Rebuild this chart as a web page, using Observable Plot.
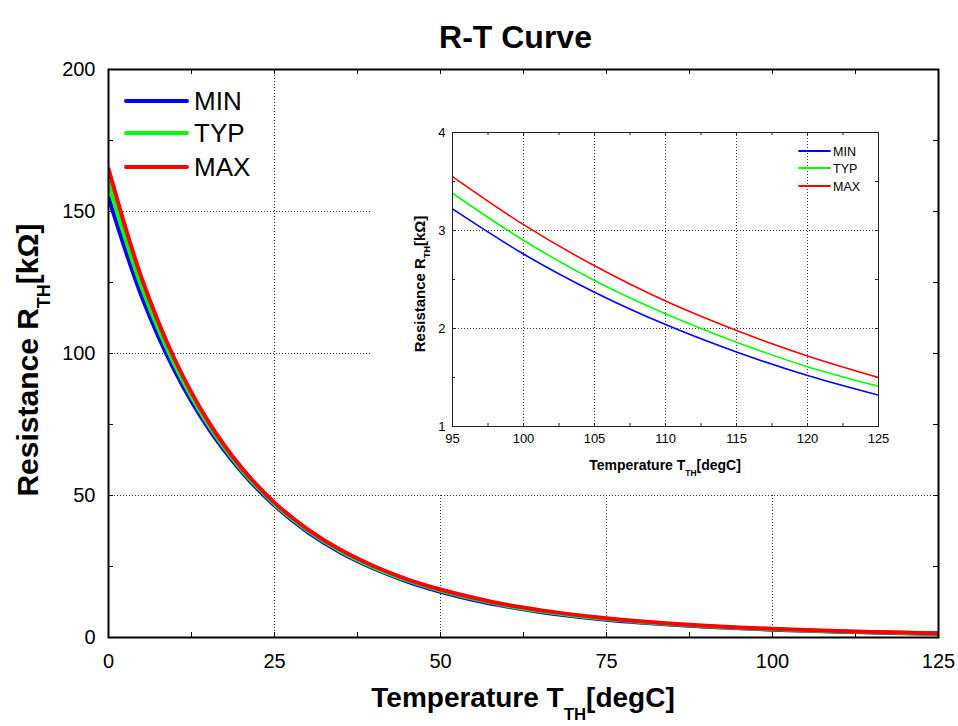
<!DOCTYPE html>
<html><head><meta charset="utf-8">
<script src="https://cdn.jsdelivr.net/npm/d3@7"></script>
<script src="https://cdn.jsdelivr.net/npm/@observablehq/plot@0.6"></script>
<style>
body{margin:0;background:#fff;}
#wrap{position:relative;width:958px;height:726px;font-family:Arial,"Liberation Sans",sans-serif;}
#inset{position:absolute;left:370px;top:74px;}
svg text{font-family:Arial,"Liberation Sans",sans-serif;}
</style></head><body>
<div id="wrap"><div id="main"></div><div id="inset"></div></div>
<script>
// ---- data ----
const temps = [0,5,10,15,20,25,30,35,40,45,50,55,60,65,70,75,80,85,90,95,100,105,110,115,120,125];
const rMin = [155.0,120.1,93.8,73.8,58.5,46.5,37.1,29.8,24.2,19.7,16.1,13.2,10.9,9.01,7.48,6.25,5.26,4.45,3.78,3.22,2.76,2.37,2.04,1.76,1.52,1.32];
const rTyp = [160.0,123.3,95.8,75.0,59.2,47.0,37.6,30.3,24.6,20.1,16.5,13.6,11.2,9.32,7.76,6.50,5.49,4.65,3.96,3.38,2.90,2.49,2.15,1.86,1.61,1.41];
const rMax = [165.0,126.5,97.8,76.2,59.9,47.5,38.1,30.8,25.1,20.5,16.9,14.0,11.5,9.64,8.05,6.76,5.72,4.86,4.15,3.55,3.06,2.64,2.28,1.98,1.72,1.50];
const seriesNames = ["MIN","TYP","MAX"];
const seriesColors = ["#0000ff","#00ff00","#ff0000"];
const mainXTicks = [0,25,50,75,100,125];
const mainYTicks = [0,50,100,150,200];
const mainXMinor = [0,12.5,25,37.5,50,62.5,75,87.5,100,112.5,125];
const mainYMinor = [0,25,50,75,100,125,150,175,200];
const insetXTicks = [95,100,105,110,115,120,125];
const insetYTicks = [1,2,3,4];
const insetXMinor = [95,97.5,100,102.5,105,107.5,110,112.5,115,117.5,120,122.5,125];
const insetYMinor = [1,1.5,2,2.5,3,3.5,4];
const titleText = "R-T Curve";
const xTitle = ["Temperature T","TH","[degC]"];
const yTitle = ["Resistance R","TH","[kΩ]"];

const rows = [];
[rMin, rTyp, rMax].forEach((vals, i) => temps.forEach((t, j) => rows.push({series: seriesNames[i], t, r: vals[j]})));
const insetRows = rows.filter(d => d.t >= 95);

const FONT = "Arial, 'Liberation Sans', sans-serif";
const grid = {stroke: "#333", strokeOpacity: 1, strokeDasharray: "1,2", strokeWidth: 1};
const fmt = d => String(d);

// ---- main chart ----
const W = 958, H = 726, mL = 108, mR = 20, mT = 69, mB = 89;
const pw = W - mL - mR, ph = H - mT - mB;
const main = Plot.plot({
  width: W, height: H, marginLeft: mL, marginRight: mR, marginTop: mT, marginBottom: mB,
  style: {fontFamily: FONT, background: "white", color: "black", overflow: "visible"},
  x: {domain: [0, 125]}, y: {domain: [0, 200]},
  color: {domain: seriesNames, range: seriesColors},
  marks: [
    Plot.gridX(mainXTicks.slice(1, -1), grid),
    Plot.gridY(mainYTicks.slice(1, -1), grid),
    Plot.ruleX(mainXMinor, {x: d => d, insetTop: ph - 5, stroke: "black"}),
    Plot.ruleX(mainXMinor, {x: d => d, insetBottom: ph - 5, stroke: "black"}),
    Plot.ruleY(mainYMinor, {y: d => d, insetRight: pw - 5, stroke: "black"}),
    Plot.ruleY(mainYMinor, {y: d => d, insetLeft: pw - 5, stroke: "black"}),
    Plot.line(rows, {x: "t", y: "r", stroke: "series", strokeWidth: 4, curve: "catmull-rom", clip: true}),
    Plot.axisX(mainXTicks, {tickSize: 0, tickPadding: 16, fontSize: 20, label: null, tickFormat: fmt}),
    Plot.axisY(mainYTicks, {tickSize: 0, tickPadding: 13, fontSize: 20, label: null, tickFormat: fmt}),
    Plot.frame({stroke: "black", strokeWidth: 2}),
    Plot.text([titleText], {frameAnchor: "top", dy: -44, dx: -8, fontSize: 32, fontWeight: "bold"})
  ]
});
document.getElementById("main").appendChild(main);

function addTitle(svg, parts, x, y, rotate, size, shift) {
  const t = svg.append("text")
    .attr("transform", `translate(${x},${y})` + (rotate ? " rotate(-90)" : ""))
    .attr("text-anchor", "middle").attr("font-weight", "bold")
    .attr("font-size", size).attr("fill", "black").attr("font-family", FONT);
  t.append("tspan").text(parts[0]);
  t.append("tspan").attr("font-size", size * 0.6).attr("dy", shift).text(parts[1]);
  t.append("tspan").attr("dy", -shift).text(parts[2]);
}
function addLegend(svg, x1, x2, tx, ys, size, sw) {
  seriesNames.forEach((s, i) => {
    svg.append("line").attr("x1", x1).attr("x2", x2).attr("y1", ys[i]).attr("y2", ys[i])
      .attr("stroke", seriesColors[i]).attr("stroke-width", sw).attr("stroke-linecap", "round");
    svg.append("text").attr("x", tx).attr("y", ys[i]).attr("dy", "0.36em")
      .attr("text-anchor", "start")
      .attr("font-size", size).attr("font-family", FONT).attr("fill", "black").text(s);
  });
}
const ms = d3.select(main);
addLegend(ms, mL + 18, mL + 79, mL + 86, [mT + 32, mT + 64, mT + 98], 26, 4);
addTitle(ms, xTitle, mL + pw / 2, 707, false, 28, 13);
addTitle(ms, yTitle, 38, 360, true, 30, 12);

// ---- inset chart ----
const IW = 562, IH = 419, iL = 82, iR = 54, iT = 58, iB = 67;
const ipw = IW - iL - iR, iph = IH - iT - iB;
const inset = Plot.plot({
  width: IW, height: IH, marginLeft: iL, marginRight: iR, marginTop: iT, marginBottom: iB,
  style: {fontFamily: FONT, background: "white", color: "black"},
  x: {domain: [95, 125]}, y: {domain: [1, 4]},
  color: {domain: seriesNames, range: seriesColors},
  marks: [
    Plot.gridX(insetXTicks.slice(1, -1), grid),
    Plot.gridY(insetYTicks.slice(1, -1), grid),
    Plot.ruleX(insetXMinor, {x: d => d, insetTop: iph - 3, stroke: "#222"}),
    Plot.ruleX(insetXMinor, {x: d => d, insetBottom: iph - 3, stroke: "#222"}),
    Plot.ruleY(insetYMinor, {y: d => d, insetRight: ipw - 3, stroke: "#222"}),
    Plot.ruleY(insetYMinor, {y: d => d, insetLeft: ipw - 3, stroke: "#222"}),
    Plot.line(insetRows, {x: "t", y: "r", stroke: "series", strokeWidth: 1.6, curve: "catmull-rom", clip: true}),
    Plot.axisX(insetXTicks, {tickSize: 0, tickPadding: 7, fontSize: 13, label: null, tickFormat: fmt}),
    Plot.axisY(insetYTicks, {tickSize: 0, tickPadding: 7, fontSize: 13, label: null, tickFormat: fmt}),
    Plot.frame({stroke: "#222", strokeWidth: 1})
  ]
});
document.getElementById("inset").appendChild(inset);
const is = d3.select(inset);
addLegend(is, iL + 347, iL + 378, iL + 381, [77, 94, 112], 12.5, 1.8);
addTitle(is, xTitle, iL + ipw / 2, 396, false, 14, 6);
addTitle(is, yTitle, 55, 210, true, 15, 5);
</script>
</body></html>
